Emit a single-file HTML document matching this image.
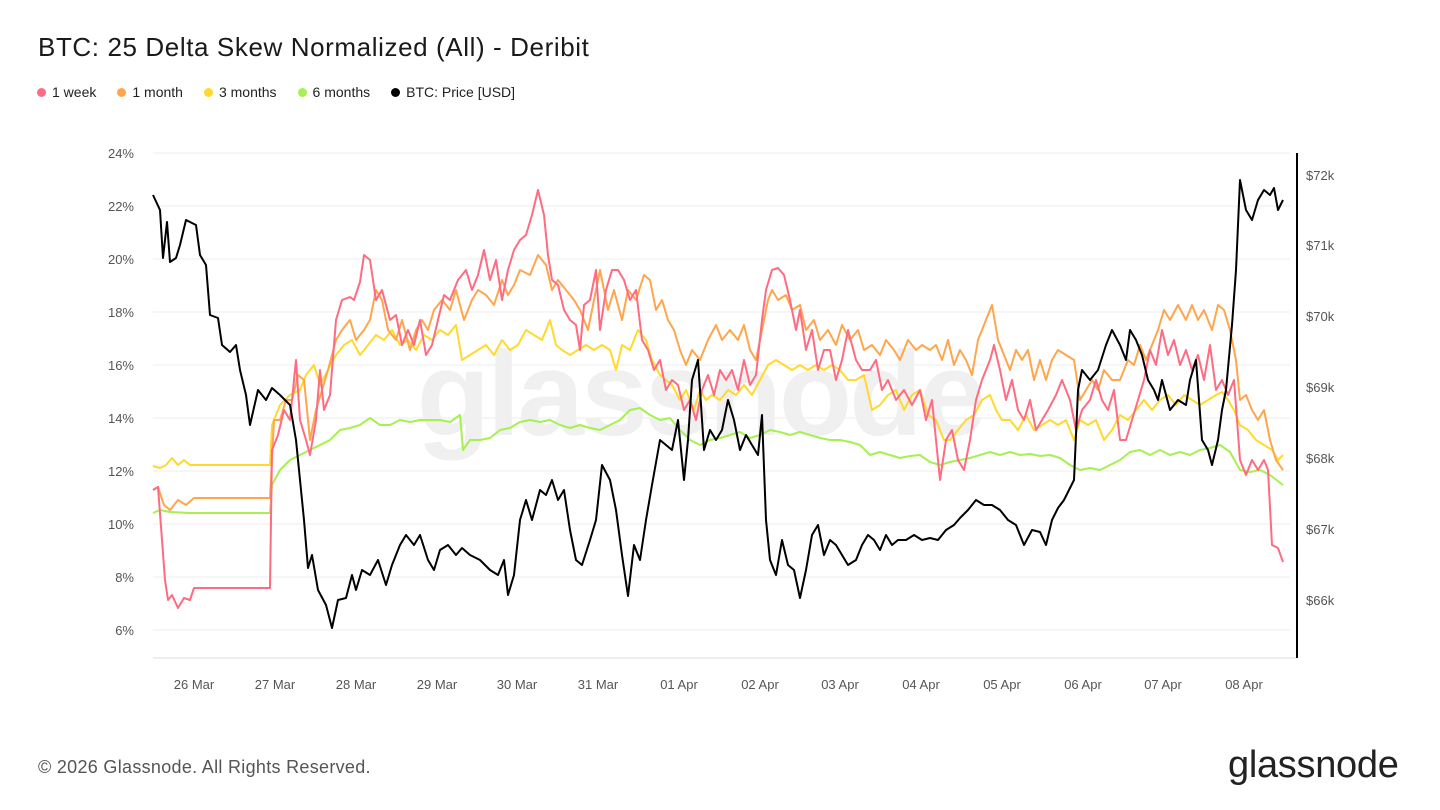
<!DOCTYPE html>
<html><head><meta charset="utf-8"><style>
body{margin:0;width:1440px;height:810px;background:#fff;font-family:"Liberation Sans",sans-serif;overflow:hidden;position:relative}
.t{position:absolute;left:38px;top:32px;font-size:26px;color:#1a1a1a;letter-spacing:0.6px}
.lg{position:absolute;top:84px;left:37px;font-size:14px;color:#222;display:flex;gap:0}
.lg span{margin-right:21px;display:flex;align-items:center}
.lg i{display:inline-block;width:9px;height:9px;border-radius:50%;margin-right:6px}
.ft{position:absolute;left:38px;top:757px;font-size:18px;color:#555;letter-spacing:0.3px}
.logo{position:absolute;left:1228px;top:744px;font-size:38px;color:#222;letter-spacing:-0.3px}
</style></head><body>
<div class="t">BTC: 25 Delta Skew Normalized (All) - Deribit</div>
<div class="lg"><span><i style="background:#ff6b81"></i>1 week</span><span><i style="background:#ffa64d"></i>1 month</span><span><i style="background:#ffd92e"></i>3 months</span><span><i style="background:#a6f052"></i>6 months</span><span><i style="background:#000"></i>BTC: Price [USD]</span></div>
<svg width="1440" height="810" style="position:absolute;left:0;top:0" font-family="Liberation Sans, sans-serif">
<g stroke="#eee" stroke-width="1">
<line x1="153" x2="1290" y1="153" y2="153"/><line x1="153" x2="1290" y1="206" y2="206"/><line x1="153" x2="1290" y1="259" y2="259"/><line x1="153" x2="1290" y1="312" y2="312"/><line x1="153" x2="1290" y1="365" y2="365"/><line x1="153" x2="1290" y1="418" y2="418"/><line x1="153" x2="1290" y1="471" y2="471"/><line x1="153" x2="1290" y1="524" y2="524"/><line x1="153" x2="1290" y1="577" y2="577"/><line x1="153" x2="1290" y1="630" y2="630"/>
</g>
<line x1="153" x2="1297" y1="658" y2="658" stroke="#ddd"/>
<line x1="1297" x2="1297" y1="153" y2="658" stroke="#000" stroke-width="2"/>
<g font-size="13" fill="#555" text-anchor="end">
<text x="134" y="158">24%</text><text x="134" y="211">22%</text><text x="134" y="264">20%</text><text x="134" y="317">18%</text><text x="134" y="370">16%</text><text x="134" y="423">14%</text><text x="134" y="476">12%</text><text x="134" y="529">10%</text><text x="134" y="582">8%</text><text x="134" y="635">6%</text>
</g>
<g font-size="13" fill="#555">
<text x="1306" y="180">$72k</text><text x="1306" y="250">$71k</text><text x="1306" y="321">$70k</text><text x="1306" y="392">$69k</text><text x="1306" y="463">$68k</text><text x="1306" y="534">$67k</text><text x="1306" y="605">$66k</text>
</g>
<g font-size="13" fill="#555" text-anchor="middle">
<text x="194" y="689">26 Mar</text><text x="275" y="689">27 Mar</text><text x="356" y="689">28 Mar</text><text x="437" y="689">29 Mar</text><text x="517" y="689">30 Mar</text><text x="598" y="689">31 Mar</text><text x="679" y="689">01 Apr</text><text x="760" y="689">02 Apr</text><text x="840" y="689">03 Apr</text><text x="921" y="689">04 Apr</text><text x="1002" y="689">05 Apr</text><text x="1083" y="689">06 Apr</text><text x="1163" y="689">07 Apr</text><text x="1244" y="689">08 Apr</text>
</g>
<text x="700" y="435" font-size="120" fill="#f0f0f0" text-anchor="middle" font-weight="bold" letter-spacing="-3">glassnode</text>
<g fill="none" stroke-width="2" stroke-linejoin="round">
<polyline stroke="#a6f052" points="153,513 160,510 170,512 190,513 270,513 272,485 280,470 290,460 300,455 310,450 320,445 330,440 340,430 350,428 360,425 370,418 380,425 390,425 400,420 410,422 420,420 430,420 440,420 450,422 460,415 463,450 470,440 480,440 490,438 500,430 510,428 520,422 530,420 540,422 550,420 560,425 570,428 580,425 590,428 600,430 610,425 620,420 630,410 640,408 650,415 660,420 670,418 680,430 690,440 700,445 710,440 720,438 730,435 740,432 750,438 760,435 770,430 780,432 790,435 800,432 810,435 820,438 830,440 840,440 850,442 860,445 870,455 880,452 890,455 900,458 910,456 920,455 930,462 940,465 950,462 960,460 970,458 980,455 990,452 1000,455 1010,452 1020,455 1030,454 1040,456 1050,455 1060,458 1070,465 1080,470 1090,468 1100,470 1110,465 1120,460 1130,452 1140,450 1150,455 1160,450 1170,455 1180,452 1190,455 1200,450 1210,448 1220,445 1230,452 1240,470 1250,472 1260,470 1270,475 1283,485"/>
<polyline stroke="#ffd92e" points="153,466 160,468 166,465 172,458 178,465 184,460 190,465 270,465 272,425 280,405 290,395 300,390 306,375 314,365 320,385 328,370 336,355 344,345 352,340 360,355 368,345 376,335 384,340 392,330 400,345 408,340 416,350 424,335 432,340 440,330 448,335 456,325 462,360 470,355 478,350 486,345 494,355 502,340 510,350 518,345 526,330 534,335 542,340 550,320 556,345 562,350 570,355 578,350 586,345 594,350 602,345 610,350 616,370 622,345 630,350 638,330 646,340 652,360 660,375 666,380 672,385 680,400 686,390 694,410 700,390 706,400 712,395 720,400 728,390 736,395 744,385 752,395 760,380 768,365 776,360 784,365 792,370 800,365 808,370 816,365 824,370 832,365 840,370 848,380 856,380 864,375 872,410 880,405 888,395 896,390 904,410 912,395 920,390 928,415 936,420 944,440 950,440 958,430 966,420 974,415 982,400 990,395 996,410 1002,420 1010,420 1018,430 1026,415 1034,430 1042,425 1050,420 1058,425 1066,420 1074,440 1080,420 1088,425 1096,420 1104,440 1112,430 1120,415 1128,420 1136,410 1144,400 1152,410 1160,400 1168,395 1176,405 1184,395 1192,400 1200,405 1208,400 1216,395 1222,392 1228,400 1234,410 1240,425 1248,430 1256,440 1264,445 1272,450 1278,460 1283,455"/>
<polyline stroke="#ffa64d" points="153,490 158,487 164,505 170,510 178,500 186,505 194,498 270,498 274,420 280,420 286,400 292,400 298,375 304,380 310,440 316,410 322,390 328,370 336,340 342,330 350,320 356,340 364,330 370,320 376,290 382,300 388,330 396,340 402,320 410,350 416,330 422,320 428,330 434,310 442,300 450,310 456,290 464,320 472,300 478,290 486,295 494,305 502,280 508,295 514,285 520,270 530,275 538,255 546,265 552,290 558,280 566,290 574,300 580,310 588,330 594,300 600,270 608,310 614,290 622,320 628,290 636,300 644,275 650,280 656,310 662,300 668,320 674,330 680,350 686,365 692,350 700,360 708,340 716,325 722,340 730,330 738,340 744,325 750,350 756,360 762,330 768,300 772,290 778,300 786,295 792,310 800,305 806,330 814,320 820,340 828,330 836,345 842,325 850,340 858,330 864,350 872,345 880,355 886,340 894,350 900,360 908,340 916,350 922,345 930,350 936,345 942,360 948,340 954,365 960,350 966,360 972,375 978,340 984,325 992,305 998,340 1004,355 1010,370 1016,350 1022,360 1028,350 1034,380 1040,360 1046,380 1052,360 1058,350 1066,355 1074,360 1080,400 1086,390 1092,380 1098,390 1104,370 1112,380 1120,380 1128,360 1134,365 1140,345 1146,360 1152,345 1158,330 1164,310 1170,320 1178,305 1186,320 1192,305 1198,320 1204,310 1212,330 1218,305 1224,310 1230,330 1236,360 1240,400 1246,395 1252,410 1258,420 1264,410 1270,440 1276,460 1283,470"/>
<polyline stroke="#ff6b81" points="153,490 158,487 162,540 165,580 168,600 172,595 178,608 184,598 190,600 194,588 270,588 272,450 278,435 284,410 290,420 296,360 300,420 306,440 310,455 316,420 320,370 324,410 330,395 336,320 342,300 350,297 354,300 360,282 364,255 370,260 376,300 382,290 390,320 396,315 402,345 408,330 414,345 420,320 426,355 432,345 438,320 444,295 450,300 458,280 466,270 472,290 478,275 484,250 490,280 496,260 502,300 508,270 514,250 520,240 526,235 532,215 538,190 544,215 548,255 552,280 558,285 564,310 570,320 576,325 580,350 584,305 590,300 596,270 600,330 606,290 612,270 618,270 624,280 630,300 636,290 642,340 648,350 654,370 660,360 666,390 672,380 678,385 684,410 690,400 696,420 702,390 708,375 714,395 720,370 726,380 732,370 738,390 744,360 750,385 756,375 762,320 766,290 772,270 778,268 784,275 790,300 796,330 800,310 806,350 812,330 818,370 824,350 830,350 836,380 842,360 848,330 856,360 862,370 870,370 876,360 882,390 888,380 896,400 904,390 912,405 920,390 926,420 932,400 940,480 946,440 952,430 958,460 964,470 970,440 976,400 982,380 990,360 994,345 1000,370 1006,400 1012,380 1018,410 1024,420 1030,400 1036,430 1042,420 1048,410 1056,395 1062,380 1070,400 1076,430 1082,410 1090,400 1096,380 1102,400 1108,410 1114,390 1120,440 1126,440 1132,420 1138,400 1144,380 1150,350 1156,365 1162,330 1168,355 1174,340 1180,365 1186,350 1192,370 1198,355 1204,380 1210,345 1216,390 1222,380 1228,395 1234,380 1240,460 1246,475 1252,460 1258,470 1264,460 1268,470 1272,545 1278,548 1283,562"/>
<polyline stroke="#000" points="153,195 160,210 163,258 167,222 170,262 176,258 180,245 186,220 196,225 200,255 206,265 210,315 218,318 222,345 230,352 236,345 240,370 246,395 250,425 258,390 266,400 272,388 280,395 290,405 296,440 300,480 304,520 308,568 312,555 318,590 326,605 332,628 338,600 346,598 352,575 356,590 362,570 370,575 378,560 386,585 392,565 400,545 406,535 414,545 420,535 428,560 434,570 440,550 448,545 456,555 462,548 470,555 480,560 490,570 498,575 504,560 508,595 514,575 520,520 526,500 532,520 540,490 546,495 552,480 558,500 564,490 570,530 576,560 582,565 590,540 596,520 602,465 610,480 616,510 622,555 628,596 634,545 640,560 646,520 652,485 660,440 666,445 672,450 678,420 684,480 688,440 692,380 698,360 704,450 710,430 716,440 722,430 728,400 734,420 740,450 746,435 752,445 758,455 762,415 766,520 770,560 776,575 782,540 788,565 794,570 800,598 806,570 812,535 818,525 824,555 830,540 836,545 842,555 848,565 856,560 862,545 868,535 874,540 880,550 886,535 892,545 898,540 906,540 914,535 922,540 930,538 938,540 946,530 954,525 960,518 968,510 976,500 984,505 992,505 1000,510 1008,520 1016,525 1024,545 1032,530 1040,532 1046,545 1052,520 1058,508 1064,500 1070,488 1074,480 1078,390 1082,370 1090,380 1098,370 1106,345 1112,330 1120,345 1126,360 1130,330 1136,340 1142,355 1148,380 1154,390 1158,400 1162,380 1170,410 1178,400 1186,405 1190,380 1196,360 1202,440 1208,450 1212,465 1218,440 1222,410 1226,390 1232,325 1236,270 1240,180 1246,210 1252,220 1258,200 1264,190 1270,195 1274,188 1278,210 1283,200"/>
</g>
</svg>
<div class="ft">© 2026 Glassnode. All Rights Reserved.</div>
<div class="logo">glassnode</div>
</body></html>
